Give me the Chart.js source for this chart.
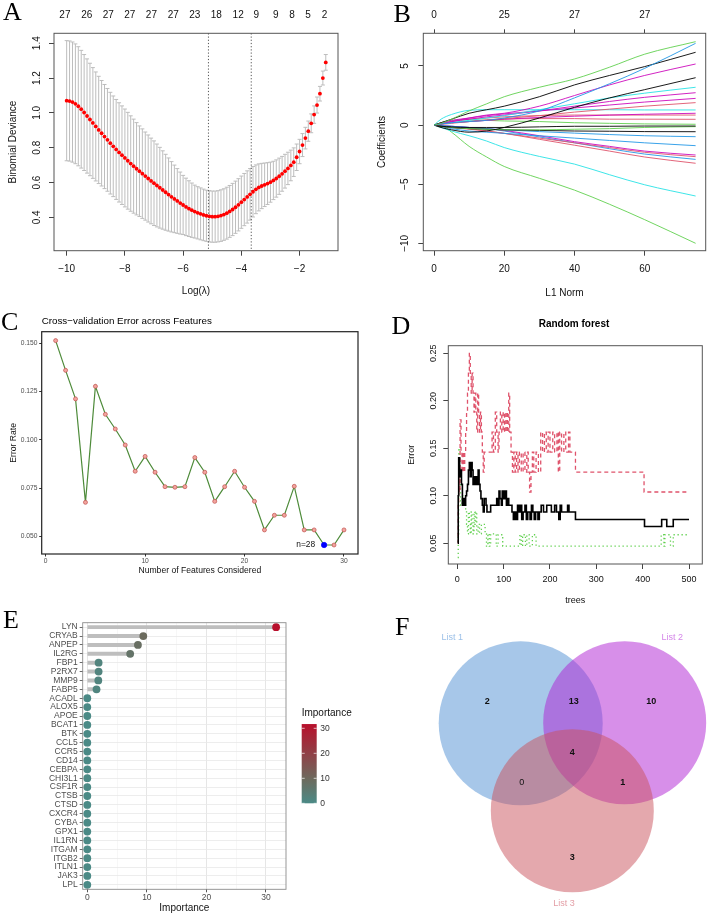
<!DOCTYPE html>
<html lang="en">
<head>
<meta charset="UTF-8">
<title>Feature selection panels</title>
<script src="https://cdn.jsdelivr.net/npm/chart.js"></script>
<style>
  body { margin: 0; background: #fff; }
  #page { position: relative; width: 708px; height: 915px; overflow: hidden; font-family: "Liberation Sans", Arial, sans-serif; }
  canvas { position: absolute; }
  .tag { position: absolute; font-family: "Liberation Serif", "Times New Roman", serif; font-size: 26px; line-height: 26px; color: #000; }
  .ttl { position: absolute; white-space: nowrap; line-height: 12px; color: #000; }
</style>
</head>
<body>
<div id="page">
  <canvas id="cA" width="354" height="300" style="left:0;top:0"></canvas>
  <canvas id="cB" width="354" height="300" style="left:354px;top:0"></canvas>
  <canvas id="cC" width="360" height="300" style="left:0;top:300px"></canvas>
  <canvas id="cD" width="348" height="310" style="left:360px;top:300px"></canvas>
  <canvas id="cE" width="354" height="315" style="left:0;top:600px"></canvas>
  <canvas id="cF" width="354" height="315" style="left:354px;top:600px"></canvas>

  <div class="tag" style="left:3px;top:-1.2px">A</div>
  <div class="tag" style="left:393.5px;top:0.5px">B</div>
  <div class="tag" style="left:1px;top:308.5px">C</div>
  <div class="tag" style="left:391.5px;top:312.5px">D</div>
  <div class="tag" style="left:3px;top:607.2px">E</div>
  <div class="tag" style="left:395px;top:613.5px">F</div>

  <div class="ttl" style="left:41.7px;top:314.7px;font-size:9.8px">Cross&#8722;validation Error across Features</div>
  <div class="ttl" style="left:574px;top:318px;font-size:10px;font-weight:bold;transform:translateX(-50%)">Random forest</div>
</div>

<script>
// ---- A: cross-validated binomial deviance ----
const lambdaA = [
  -10.0, -9.9, -9.8, -9.7, -9.6, -9.5, -9.4, -9.3, -9.2, -9.1,
  -9.0, -8.9, -8.8, -8.7, -8.6, -8.5, -8.4, -8.3, -8.2, -8.1,
  -8.0, -7.9, -7.8, -7.7, -7.6, -7.5, -7.4, -7.3, -7.2, -7.1,
  -7.0, -6.9, -6.8, -6.7, -6.6, -6.5, -6.4, -6.3, -6.2, -6.1,
  -6.0, -5.9, -5.8, -5.7, -5.6, -5.5, -5.4, -5.3, -5.2, -5.1,
  -5.0, -4.9, -4.8, -4.7, -4.6, -4.5, -4.4, -4.3, -4.2, -4.1,
  -4.0, -3.9, -3.8, -3.7, -3.6, -3.5, -3.4, -3.3, -3.2, -3.1,
  -3.0, -2.9, -2.8, -2.7, -2.6, -2.5, -2.4, -2.3, -2.2, -2.1,
  -2.0, -1.9, -1.8, -1.7, -1.6, -1.5, -1.4, -1.3, -1.2, -1.1
];
const devMeanA = [
  1.070, 1.068, 1.062, 1.052, 1.038, 1.021, 1.002, 0.982, 0.962, 0.942,
  0.922, 0.902, 0.883, 0.864, 0.845, 0.826, 0.808, 0.790, 0.773, 0.757,
  0.741, 0.725, 0.709, 0.694, 0.679, 0.665, 0.651, 0.637, 0.623, 0.609,
  0.596, 0.583, 0.570, 0.557, 0.544, 0.531, 0.518, 0.506, 0.494, 0.482,
  0.471, 0.460, 0.450, 0.441, 0.433, 0.426, 0.420, 0.414, 0.409, 0.406,
  0.404, 0.404, 0.406, 0.410, 0.416, 0.424, 0.434, 0.445, 0.458, 0.472,
  0.487, 0.502, 0.517, 0.532, 0.547, 0.561, 0.572, 0.580, 0.587, 0.594,
  0.602, 0.612, 0.623, 0.636, 0.650, 0.665, 0.681, 0.698, 0.717, 0.745,
  0.778, 0.815, 0.855, 0.895, 0.940, 0.990, 1.045, 1.110, 1.200, 1.290
];
const devSeA = [
  .345, .345, .345, .344, .342, .338, .333, .328, .323, .318,
  .313, .308, .303, .299, .295, .292, .289, .287, .285, .283,
  .281, .278, .274, .270, .265, .260, .257, .253, .250, .246,
  .243, .238, .232, .225, .218, .210, .202, .194, .186, .178,
  .170, .165, .160, .156, .152, .150, .149, .148, .147, .147,
  .147, .147, .147, .148, .148, .149, .149, .150, .150, .150,
  .150, .150, .150, .148, .145, .140, .135, .130, .125, .120,
  .115, .110, .107, .104, .100, .097, .093, .088, .082, .076,
  .070, .066, .062, .058, .054, .050, .046, .042, .040, .045
];
const nzeroPosA = [-10.06, -9.31, -8.57, -7.83, -7.09, -6.34, -5.6, -4.86, -4.11, -3.49, -2.82, -2.26, -1.71, -1.14];
const nzeroA = [27, 26, 27, 27, 27, 27, 23, 18, 12, 9, 9, 8, 5, 2];
const lambdaLinesA = [-5.13, -3.66];
const xTicksA = [-10, -8, -6, -4, -2];
const yTicksA = [0.4, 0.6, 0.8, 1.0, 1.2, 1.4];

// ---- B: coefficient paths ----
const l1Grid = [0, 2, 5, 10, 15, 20, 30, 40, 50, 60, 74.5];
const coefPaths = [
  [0, 0.15, 0.5, 1.2, 1.8, 2.4, 3.2, 3.9, 4.9, 6.0, 7.06],
  [0, 0.1, 0.2, 0.3, 0.4, 0.6, 1.2, 2.3, 3.5, 4.8, 6.92],
  [0, 0.2, 0.5, 1.0, 1.3, 1.6, 2.4, 3.4, 4.2, 4.95, 6.16],
  [0, 0.1, 0.3, 0.6, 0.85, 1.0, 1.6, 2.5, 3.4, 4.2, 5.17],
  [0, -0.2, -0.4, -0.6, -0.5, -0.2, 0.6, 1.5, 2.3, 3.0, 4.01],
  [0, 0.1, 0.2, 0.4, 0.6, 0.8, 1.3, 1.8, 2.3, 2.7, 3.2],
  [0, 0.1, 0.3, 0.5, 0.7, 0.85, 1.2, 1.6, 2.0, 2.35, 2.74],
  [0, 0.2, 0.4, 0.6, 0.8, 0.95, 1.2, 1.45, 1.7, 1.95, 2.26],
  [0, 0.05, 0.15, 0.3, 0.45, 0.55, 0.8, 1.1, 1.35, 1.6, 1.9],
  [0, 0.5, 0.9, 1.25, 1.3, 1.3, 1.3, 1.3, 1.3, 1.28, 1.28],
  [0, 0.1, 0.2, 0.3, 0.4, 0.5, 0.65, 0.75, 0.85, 0.92, 1.0],
  [0, 0.1, 0.3, 0.5, 0.6, 0.7, 0.8, 0.85, 0.85, 0.85, 0.85],
  [0, 0.1, 0.2, 0.3, 0.4, 0.5, 0.55, 0.55, 0.5, 0.5, 0.49],
  [0, 0.2, 0.4, 0.45, 0.4, 0.35, 0.3, 0.2, 0.15, 0.1, 0.07],
  [0, -0.1, -0.15, -0.2, -0.2, -0.2, -0.15, -0.1, -0.1, -0.08, -0.08],
  [0, -0.1, -0.2, -0.3, -0.35, -0.4, -0.4, -0.35, -0.3, -0.2, -0.13],
  [0, -0.1, -0.2, -0.3, -0.35, -0.4, -0.45, -0.5, -0.52, -0.55, -0.56],
  [0, -0.05, -0.1, -0.2, -0.3, -0.4, -0.55, -0.68, -0.8, -0.9, -0.98],
  [0, -0.1, -0.3, -0.5, -0.6, -0.7, -0.9, -1.1, -1.3, -1.5, -1.74],
  [0, -0.05, -0.1, -0.2, -0.3, -0.45, -0.9, -1.4, -1.8, -2.2, -2.53],
  [0, -0.1, -0.2, -0.35, -0.5, -0.7, -1.1, -1.5, -1.9, -2.3, -2.67],
  [0, -0.05, -0.1, -0.2, -0.3, -0.5, -1.0, -1.5, -2.0, -2.45, -2.9],
  [0, -0.1, -0.2, -0.3, -0.5, -0.7, -1.2, -1.7, -2.2, -2.7, -3.23],
  [0, -0.2, -0.5, -0.9, -1.35, -1.9, -2.65, -3.3, -4.2, -5.05, -6.0],
  [0, -0.02, -0.6, -1.8, -2.7, -3.5, -4.5, -5.5, -6.7, -8.0, -10.0]
];
const coefColours = ['#61D04F', '#2297E6', '#000000', '#CD0BBC', '#000000', '#28E2E5', '#CD0BBC', '#CD0BBC',
  '#DF536B', '#28E2E5', '#CD0BBC', '#DF536B', '#DF536B', '#61D04F', '#000000', '#61D04F', '#000000',
  '#2297E6', '#2297E6', '#CD0BBC', '#DF536B', '#2297E6', '#DF536B', '#28E2E5', '#61D04F'];
const dfPosB = [0, 20, 40, 60];
const dfB = ['0', '25', '27', '27'];
const xTicksB = [0, 20, 40, 60];
const yTicksB = [-10, -5, 0, 5];

// ---- C: RFE cross-validation error ----
const cvFeatures = [1, 2, 3, 4, 5, 6, 7, 8, 9, 10, 11, 12, 13, 14, 15, 16, 17, 18, 19, 20, 21, 22, 23, 24, 25, 26, 27, 28, 29, 30];
const cvError = [0.1514, 0.1360, 0.1212, 0.0676, 0.1277, 0.1132, 0.1056, 0.0973, 0.0837, 0.0914,
  0.0832, 0.0757, 0.0754, 0.0757, 0.0908, 0.0832, 0.0681, 0.0757, 0.0837, 0.0754,
  0.0681, 0.0533, 0.0609, 0.0609, 0.0759, 0.0533, 0.0533, 0.0455, 0.0455, 0.0533];
const bestN = 28;
const xTicksC = [0, 10, 20, 30];
const yTicksC = [0.050, 0.075, 0.100, 0.125, 0.150];

// ---- D: random forest error by number of trees (tree, error) at each change ----
const oobSteps = [[1,0.05],[2,0.10],[3,0.14],[5,0.12],[7,0.127],[9,0.112],[11,0.09],[13,0.097],[15,0.09],[18,0.10],
  [20,0.105],[22,0.112],[24,0.127],[26,0.135],[28,0.12],[30,0.135],[32,0.127],[34,0.112],[36,0.12],[38,0.112],
  [40,0.12],[43,0.112],[45,0.127],[47,0.112],[49,0.105],[51,0.097],[54,0.09],[56,0.083],[58,0.097],[62,0.09],
  [64,0.083],[72,0.09],[85,0.097],[87,0.09],[90,0.105],[92,0.097],[95,0.09],[97,0.105],[100,0.097],[103,0.105],
  [106,0.09],[108,0.097],[111,0.09],[118,0.083],[121,0.075],[124,0.083],[127,0.075],[130,0.09],[133,0.083],[136,0.09],
  [139,0.075],[142,0.083],[146,0.09],[149,0.075],[152,0.083],[157,0.075],[160,0.09],[163,0.083],[166,0.075],[169,0.083],
  [174,0.075],[177,0.083],[181,0.09],[186,0.083],[193,0.09],[203,0.083],[210,0.09],[214,0.083],[219,0.075],[222,0.09],
  [225,0.083],[238,0.09],[241,0.083],[255,0.075],[404,0.0676],[441,0.075],[452,0.0676],[466,0.075],[500,0.075]];
const classOneSteps = [[1,0.05],[2,0.09],[3,0.13],[4,0.104],[6,0.18],[8,0.146],[10,0.125],[12,0.146],[14,0.125],[16,0.146],
  [18,0.167],[20,0.188],[22,0.208],[24,0.229],[26,0.25],[28,0.229],[30,0.208],[32,0.229],[34,0.208],[36,0.188],
  [38,0.208],[40,0.188],[42,0.167],[44,0.208],[46,0.188],[48,0.167],[50,0.188],[52,0.167],[54,0.146],[56,0.125],
  [58,0.146],[75,0.167],[78,0.146],[82,0.188],[85,0.167],[88,0.146],[90,0.167],[93,0.188],[96,0.167],[99,0.188],
  [102,0.167],[105,0.188],[108,0.167],[111,0.208],[113,0.167],[116,0.146],[119,0.125],[122,0.146],[125,0.125],[128,0.146],
  [131,0.125],[134,0.146],[138,0.125],[142,0.146],[146,0.125],[150,0.146],[153,0.125],[156,0.104],[159,0.125],[162,0.146],
  [165,0.125],[170,0.146],[175,0.125],[180,0.167],[184,0.146],[188,0.167],[192,0.146],[196,0.167],[200,0.146],[206,0.167],
  [210,0.146],[215,0.167],[218,0.125],[221,0.167],[225,0.146],[230,0.167],[234,0.146],[240,0.167],[243,0.146],[255,0.125],
  [403,0.104],[500,0.104]];
const classTwoSteps = [[1,0.035],[2,0.06],[3,0.15],[5,0.13],[7,0.09],[10,0.1],[12,0.09],[18,0.083],[20,0.07],[22,0.06],
  [24,0.083],[26,0.07],[28,0.06],[30,0.083],[32,0.07],[34,0.06],[36,0.083],[38,0.07],[40,0.083],[42,0.06],
  [45,0.07],[48,0.06],[52,0.07],[60,0.06],[63,0.047],[66,0.06],[69,0.047],[72,0.06],[84,0.047],[88,0.059],
  [98,0.047],[135,0.059],[138,0.047],[141,0.059],[147,0.047],[150,0.059],[155,0.047],[162,0.059],[170,0.047],[440,0.059],
  [446,0.047],[448,0.059],[460,0.047],[466,0.059],[500,0.059]];
const xTicksD = [0, 100, 200, 300, 400, 500];
const yTicksD = [0.05, 0.10, 0.15, 0.20, 0.25];

// ---- E: gene importance ----
const genes = ['LYN', 'CRYAB', 'ANPEP', 'IL2RG', 'FBP1', 'P2RX7', 'MMP9', 'FABP5', 'ACADL', 'ALOX5',
  'APOE', 'BCAT1', 'BTK', 'CCL5', 'CCR5', 'CD14', 'CEBPA', 'CHI3L1', 'CSF1R', 'CTSB',
  'CTSD', 'CXCR4', 'CYBA', 'GPX1', 'IL1RN', 'ITGAM', 'ITGB2', 'ITLN1', 'JAK3', 'LPL'];
const geneImp = [31.7, 9.4, 8.5, 7.2, 1.9, 1.9, 1.85, 1.55, 0, 0,
  0, 0, 0, 0, 0, 0, 0, 0, 0, 0,
  0, 0, 0, 0, 0, 0, 0, 0, 0, 0];
const xTicksE = [0, 5, 10, 15, 20, 25, 30];
const legendTicksE = [0, 10, 20, 30];

// ---- F: Venn overlap counts ----
const vennSets = ['List 1', 'List 2', 'List 3'];
const vennCounts = [2, 13, 10, 4, 0, 1, 3];   // 1 only, 1&2, 2 only, all, 1&3, 2&3, 3 only

// ---------- helpers ----------
Chart.defaults.font.family = '"Liberation Sans", Arial, sans-serif';
Chart.defaults.color = '#111';
const FONT = '"Liberation Sans", Arial, sans-serif';
const minusFmt = v => String(v).replace('-', '\u2212');
const setTicks = arr => s => { s.ticks = arr.map(v => ({ value: v })); };
const fixW = w => s => { s.width = w; };
const fixH = h => s => { s.height = h; };
const tickOnly = (len, col) => ({ display: true, drawOnChartArea: false, drawTicks: true, tickLength: len, tickColor: col || '#444', lineWidth: 1 });
const common = (pad) => ({
  responsive: false, animation: false, events: [],
  layout: { autoPadding: false, padding: pad },
  plugins: { legend: { display: false }, tooltip: { enabled: false } }
});

const boxPlugin = {
  id: 'box',
  afterDatasetsDraw(chart, args, opts) {
    const { ctx, chartArea: a } = chart;
    ctx.save();
    ctx.strokeStyle = opts.color || '#555';
    ctx.lineWidth = opts.width || 1;
    ctx.strokeRect(a.left, a.top, a.right - a.left, a.bottom - a.top);
    ctx.restore();
  }
};

// error bars and the two lambda markers of panel A
const errBarPlugin = {
  id: 'errbars',
  beforeDatasetsDraw(chart) {
    const { ctx, chartArea: a, scales: { x, y } } = chart;
    ctx.save();
    ctx.strokeStyle = '#BDBDBD';
    ctx.lineWidth = 1;
    lambdaA.forEach((l, i) => {
      const px = x.getPixelForValue(l);
      const top = y.getPixelForValue(devMeanA[i] + devSeA[i]);
      const bot = y.getPixelForValue(devMeanA[i] - devSeA[i]);
      ctx.beginPath();
      ctx.moveTo(px, top); ctx.lineTo(px, bot);
      ctx.moveTo(px - 2, top); ctx.lineTo(px + 2, top);
      ctx.moveTo(px - 2, bot); ctx.lineTo(px + 2, bot);
      ctx.stroke();
    });
    ctx.strokeStyle = '#555';
    ctx.setLineDash([1.2, 2]);
    lambdaLinesA.forEach(v => {
      const px = x.getPixelForValue(v);
      ctx.beginPath(); ctx.moveTo(px, a.top); ctx.lineTo(px, a.bottom); ctx.stroke();
    });
    ctx.restore();
  }
};

// ---------- A ----------
new Chart(document.getElementById('cA'), {
  type: 'scatter',
  data: { datasets: [{ data: lambdaA.map((x, i) => ({ x, y: devMeanA[i] })), pointRadius: 1.9, pointBackgroundColor: '#FF0000', pointBorderWidth: 0 }] },
  options: Object.assign(common({ left: 0, top: 0, right: 16, bottom: 0 }), {
    plugins: { legend: { display: false }, tooltip: { enabled: false }, box: { color: '#555', width: 1 } },
    scales: {
      x: { type: 'linear', position: 'bottom', min: -10.435, max: -0.68, afterFit: fixH(49.3), afterBuildTicks: setTicks(xTicksA),
        grid: tickOnly(5), border: { display: false },
        ticks: { font: { size: 10 }, padding: 7.3, maxRotation: 0, autoSkip: false, callback: minusFmt },
        title: { display: true, text: 'Log(\u03BB)', font: { size: 10 }, padding: { top: 0, bottom: 3 } } },
      x2: { type: 'linear', position: 'top', min: -10.435, max: -0.68, afterFit: fixH(33.3), afterBuildTicks: setTicks(nzeroPosA),
        grid: { display: false, drawTicks: false }, border: { display: false },
        ticks: { font: { size: 10 }, padding: 12, maxRotation: 0, autoSkip: false, callback: (v, i) => String(nzeroA[i]) } },
      y: { type: 'linear', position: 'left', min: 0.2084, max: 1.457, afterFit: fixW(54), afterBuildTicks: setTicks(yTicksA),
        grid: tickOnly(5), border: { display: false },
        ticks: { font: { size: 10 }, padding: 4.5, minRotation: 90, maxRotation: 90, crossAlign: 'center', autoSkip: false, callback: v => v.toFixed(1) },
        title: { display: true, text: 'Binomial Deviance', font: { size: 10 }, padding: { top: 7.5, bottom: 0 } } }
    }
  }),
  plugins: [boxPlugin, errBarPlugin]
});

// ---------- B ----------
new Chart(document.getElementById('cB'), {
  type: 'line',
  data: { datasets: coefPaths.map((p, k) => ({
    data: l1Grid.map((x, i) => ({ x, y: p[i] })), borderColor: coefColours[k], borderWidth: 0.9,
    pointRadius: 0, cubicInterpolationMode: 'monotone' })) },
  options: Object.assign(common({ left: 0, top: 0, right: 2.3, bottom: 0 }), {
    plugins: { legend: { display: false }, tooltip: { enabled: false }, box: { color: '#555', width: 1 } },
    scales: {
      x: { type: 'linear', position: 'bottom', min: -3.047, max: 77.37, afterFit: fixH(49.3), afterBuildTicks: setTicks(xTicksB),
        grid: tickOnly(5), border: { display: false },
        ticks: { font: { size: 10 }, padding: 7.3, maxRotation: 0, autoSkip: false, callback: minusFmt },
        title: { display: true, text: 'L1 Norm', font: { size: 10 }, padding: { top: 0, bottom: 0.7 } } },
      x2: { type: 'linear', position: 'top', min: -3.047, max: 77.37, afterFit: fixH(33.3), afterBuildTicks: setTicks(dfPosB),
        grid: tickOnly(4), border: { display: false },
        ticks: { font: { size: 10 }, padding: 8, maxRotation: 0, autoSkip: false, callback: (v, i) => dfB[i] } },
      y: { type: 'linear', position: 'left', min: -10.626, max: 7.766, afterFit: fixW(69.3), afterBuildTicks: setTicks(yTicksB),
        grid: tickOnly(5), border: { display: false },
        ticks: { font: { size: 10 }, padding: 4.5, minRotation: 90, maxRotation: 90, crossAlign: 'center', autoSkip: false, callback: minusFmt },
        title: { display: true, text: 'Coefficients', font: { size: 10 }, padding: { top: 22.3, bottom: 0 } } }
    }
  }),
  plugins: [boxPlugin]
});

// ---------- C ----------
const bestLabelPlugin = {
  id: 'bestn',
  afterDatasetsDraw(chart) {
    const { ctx, scales: { x, y } } = chart;
    const i = cvFeatures.indexOf(bestN);
    ctx.save();
    ctx.font = '8.4px ' + FONT;
    ctx.fillStyle = '#111';
    ctx.textAlign = 'right';
    ctx.textBaseline = 'middle';
    ctx.fillText('n=' + bestN, x.getPixelForValue(bestN) - 9, y.getPixelForValue(cvError[i]));
    ctx.restore();
  }
};
new Chart(document.getElementById('cC'), {
  type: 'line',
  data: { datasets: [{
    data: cvFeatures.map((x, i) => ({ x, y: cvError[i] })),
    borderColor: '#4E8B3A', borderWidth: 1.2, tension: 0,
    pointRadius: cvFeatures.map(n => n === bestN ? 2.7 : 2),
    pointBackgroundColor: cvFeatures.map(n => n === bestN ? '#0000FF' : '#F2A49E'),
    pointBorderColor: cvFeatures.map(n => n === bestN ? '#0000FF' : '#C0504D'),
    pointBorderWidth: 0.7 }] },
  options: Object.assign(common({ left: 0, top: 31.7, right: 2, bottom: 0 }), {
    plugins: { legend: { display: false }, tooltip: { enabled: false }, box: { color: '#222', width: 1.2 } },
    scales: {
      x: { type: 'linear', position: 'bottom', min: -0.402, max: 31.41, afterFit: fixH(46), afterBuildTicks: setTicks(xTicksC),
        grid: tickOnly(2.5, '#333'), border: { display: false },
        ticks: { font: { size: 6.7 }, color: '#4D4D4D', padding: 0.5, maxRotation: 0, autoSkip: false },
        title: { display: true, text: 'Number of Features Considered', font: { size: 8.6 }, padding: { top: 0, bottom: 23.8 } } },
      y: { type: 'linear', position: 'left', min: 0.04083, max: 0.15601, afterFit: fixW(41.7), afterBuildTicks: setTicks(yTicksC),
        grid: tickOnly(2.5, '#333'), border: { display: false },
        ticks: { font: { size: 6.7 }, color: '#4D4D4D', padding: 1.8, autoSkip: false, callback: v => v.toFixed(3) },
        title: { display: true, text: 'Error Rate', font: { size: 8.6 }, padding: { top: 8.1, bottom: 0 } } }
    }
  }),
  plugins: [boxPlugin, bestLabelPlugin]
});

// ---------- D ----------
const rfLine = (steps, colour, width, dash) => ({
  data: steps.map(([t, e]) => ({ x: t, y: e })), stepped: true,
  borderColor: colour, borderWidth: width, borderDash: dash, pointRadius: 0
});
new Chart(document.getElementById('cD'), {
  type: 'line',
  data: { datasets: [
    rfLine(oobSteps, '#000000', 1.6, []),
    rfLine(classOneSteps, '#DF536B', 1.3, [4, 3]),
    rfLine(classTwoSteps, '#61D04F', 1.3, [1.3, 2.7])
  ] },
  options: Object.assign(common({ left: 0, top: 45.7, right: 5.7, bottom: 0 }), {
    plugins: { legend: { display: false }, tooltip: { enabled: false }, box: { color: '#555', width: 1 } },
    scales: {
      x: { type: 'linear', position: 'bottom', min: -19.42, max: 528.7, afterFit: fixH(46), afterBuildTicks: setTicks(xTicksD),
        grid: tickOnly(5), border: { display: false },
        ticks: { font: { size: 9 }, padding: 4.9, maxRotation: 0, autoSkip: false },
        title: { display: true, text: 'trees', font: { size: 9 }, padding: { top: 0, bottom: 3.6 } } },
      y: { type: 'linear', position: 'left', min: 0.0282, max: 0.258, afterFit: fixW(88.3), afterBuildTicks: setTicks(yTicksD),
        grid: tickOnly(5), border: { display: false },
        ticks: { font: { size: 9 }, padding: 1.5, minRotation: 90, maxRotation: 90, crossAlign: 'center', autoSkip: false, callback: v => v.toFixed(2) },
        title: { display: true, text: 'Error', font: { size: 9 }, padding: { top: 46.6, bottom: 0 } } }
    }
  }),
  plugins: [boxPlugin]
});

// ---------- E ----------
const impMax = Math.max(...geneImp);
function impColour(v) {
  const t = Math.min(v / impMax, 1);
  const lo = [75, 138, 134], mid = [108, 107, 94], hi = [184, 16, 44];
  let c;
  if (t < 0.3) { const u = t / 0.3; c = lo.map((a, k) => a + (mid[k] - a) * u); }
  else { const u = (t - 0.3) / 0.7; c = mid.map((a, k) => a + (hi[k] - a) * u); }
  return 'rgb(' + c.map(Math.round).join(',') + ')';
}
const colourBarPlugin = {
  id: 'colourbar',
  afterDraw(chart) {
    const ctx = chart.ctx;
    const x0 = 301.7, w = 15, yZero = 203.3, pxPer = 2.5;
    const yTop = yZero - impMax * pxPer;
    const g = ctx.createLinearGradient(0, yZero, 0, yTop);
    for (let k = 0; k <= 10; k++) g.addColorStop(k / 10, impColour(impMax * k / 10));
    ctx.save();
    ctx.fillStyle = g;
    ctx.fillRect(x0, yTop, w, yZero - yTop);
    ctx.strokeStyle = 'rgba(255,255,255,0.85)';
    ctx.lineWidth = 0.8;
    ctx.font = '8.5px ' + FONT;
    ctx.textAlign = 'left';
    ctx.textBaseline = 'middle';
    legendTicksE.forEach(v => {
      const y = yZero - v * pxPer;
      ctx.beginPath();
      ctx.moveTo(x0, y); ctx.lineTo(x0 + 3, y);
      ctx.moveTo(x0 + w - 3, y); ctx.lineTo(x0 + w, y);
      ctx.stroke();
      ctx.fillStyle = '#333';
      ctx.fillText(String(v), x0 + w + 3.5, y);
    });
    ctx.font = '10px ' + FONT;
    ctx.fillStyle = '#111';
    ctx.fillText('Importance', x0, 113);
    ctx.restore();
  }
};
new Chart(document.getElementById('cE'), {
  type: 'bar',
  data: {
    labels: genes,
    datasets: [
      { type: 'line', data: geneImp, showLine: false, pointRadius: 3.9, pointBorderWidth: 0,
        pointBackgroundColor: geneImp.map(impColour), order: 0 },
      { type: 'bar', data: geneImp, backgroundColor: '#BEBEBE', barThickness: 3.3, order: 1 }
    ]
  },
  options: Object.assign(common({ left: 0, top: 22.7, right: 68, bottom: 0 }), {
    indexAxis: 'y',
    plugins: { legend: { display: false }, tooltip: { enabled: false }, box: { color: '#8C8C8C', width: 0.9 } },
    scales: {
      x: { type: 'linear', position: 'bottom', min: -0.772, max: 33.36, afterFit: fixH(25.7), afterBuildTicks: setTicks(xTicksE),
        grid: { display: true, drawOnChartArea: true, drawTicks: true, tickLength: 3,
          color: c => c.tick && c.tick.value % 10 === 0 ? '#E3E3E3' : '#F2F2F2',
          lineWidth: c => c.tick && c.tick.value % 10 === 0 ? 0.9 : 0.6,
          tickColor: c => c.tick && c.tick.value % 10 === 0 ? '#444' : 'rgba(0,0,0,0)' },
        border: { display: false },
        ticks: { font: { size: 8.5 }, color: '#4D4D4D', padding: 0.3, maxRotation: 0, autoSkip: false,
          callback: v => (v % 10 === 0 ? String(v) : '') },
        title: { display: true, text: 'Importance', font: { size: 10 }, padding: { top: 0, bottom: 0.7 } } },
      y: { type: 'category', position: 'left', afterFit: fixW(82.7), offset: true,
        grid: { display: true, offset: false, drawOnChartArea: true, color: '#E8E8E8', lineWidth: 0.8, tickLength: 3, tickColor: '#444' },
        border: { display: false },
        ticks: { font: { size: 8.5 }, color: '#4D4D4D', padding: 2, autoSkip: false } }
    }
  }),
  plugins: [boxPlugin, colourBarPlugin]
});

// ---------- F ----------
// circle layout in panel pixels: centre x, centre y, radius
const vennCircles = [[166.7, 123.3, 82], [270.7, 122.7, 81.5], [218.3, 210.7, 81.5]];
const vennFills = ['rgba(79,143,211,0.5)', 'rgba(175,31,211,0.5)', 'rgba(201,81,91,0.5)'];
const vennLabelColours = ['#9CC0E8', '#D486E8', '#E39FA6'];
const vennSetLabelPos = [[98.3, 37.3], [318.3, 37.3], [210, 304]];
const vennCountPos = [[133.3, 101.7], [219.7, 101.7], [297.3, 101.7], [218.3, 152.7], [167.7, 182.7], [268.7, 182.7], [218.3, 257.3]];
const vennTextPlugin = {
  id: 'venntext',
  afterDatasetsDraw(chart) {
    const { ctx, scales: { x, y } } = chart;
    ctx.save();
    ctx.textAlign = 'center';
    ctx.textBaseline = 'middle';
    vennCounts.forEach((n, i) => {
      ctx.font = (n === 0 ? '' : 'bold ') + '9px ' + FONT;
      ctx.fillStyle = '#111';
      ctx.fillText(String(n), x.getPixelForValue(vennCountPos[i][0]), y.getPixelForValue(vennCountPos[i][1]));
    });
    ctx.font = '9px ' + FONT;
    vennSets.forEach((s, i) => {
      ctx.fillStyle = vennLabelColours[i];
      ctx.fillText(s, x.getPixelForValue(vennSetLabelPos[i][0]), y.getPixelForValue(vennSetLabelPos[i][1]));
    });
    ctx.restore();
  }
};
new Chart(document.getElementById('cF'), {
  type: 'bubble',
  data: { datasets: vennCircles.map((c, i) => ({
    data: [{ x: c[0], y: c[1], r: c[2] }], backgroundColor: vennFills[i], borderWidth: 0, hoverRadius: 0, order: 2 - i })) },
  options: Object.assign(common({ left: 0, top: 0, right: 0, bottom: 0 }), {
    scales: {
      x: { type: 'linear', display: false, min: 0, max: 354 },
      y: { type: 'linear', display: false, min: 0, max: 315, reverse: true }
    }
  }),
  plugins: [vennTextPlugin]
});
</script>
</body>
</html>
